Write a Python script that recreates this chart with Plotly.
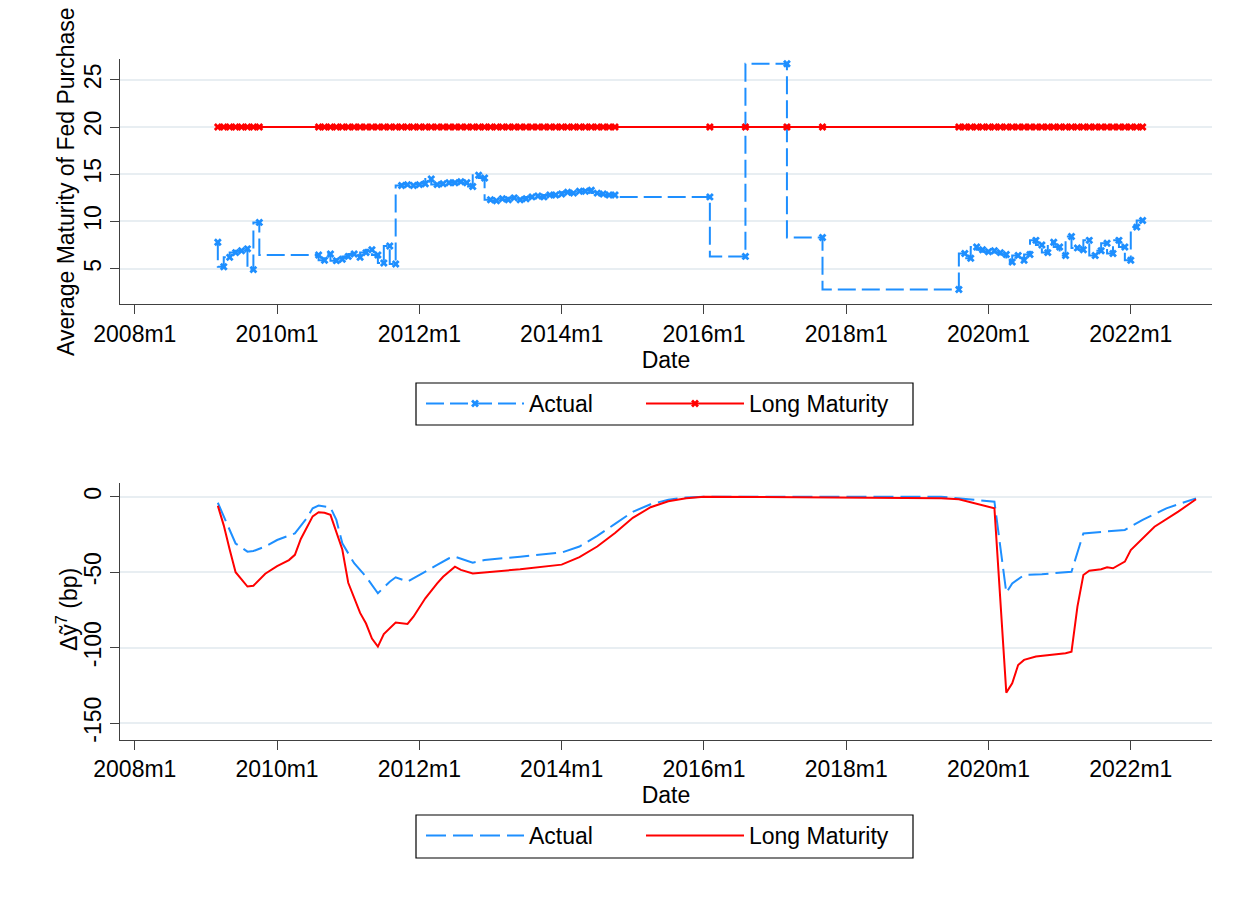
import plotly.graph_objects as go

FONT = "Liberation Sans, Arial, Helvetica, sans-serif"
BLUE = "#1e8fff"
RED = "#ff0000"
GRID = "#e8eef2"
AXIS = "#404040"

# ---------------- top panel data ----------------
top_dates = [
    "2009m3", "2009m4", "2009m5", "2009m6", "2009m7", "2009m8", "2009m9", "2009m10",
    "2010m8", "2010m9", "2010m10", "2010m11", "2010m12",
    "2011m1", "2011m2", "2011m3", "2011m4", "2011m5", "2011m6", "2011m7", "2011m8", "2011m9",
    "2011m10", "2011m11", "2011m12",
    "2012m1", "2012m2", "2012m3", "2012m4", "2012m5", "2012m6", "2012m7", "2012m8", "2012m9", "2012m10", "2012m11", "2012m12",
    "2013m1", "2013m2", "2013m3", "2013m4", "2013m5", "2013m6", "2013m7", "2013m8", "2013m9", "2013m10", "2013m11", "2013m12",
    "2014m1", "2014m2", "2014m3", "2014m4", "2014m5", "2014m6", "2014m7", "2014m8", "2014m9", "2014m10",
    "2016m2", "2016m8", "2017m3", "2017m9",
    "2019m8", "2019m9", "2019m10", "2019m11", "2019m12",
    "2020m1", "2020m2", "2020m3", "2020m4", "2020m5", "2020m6", "2020m7", "2020m8", "2020m9", "2020m10", "2020m11", "2020m12",
    "2021m1", "2021m2", "2021m3", "2021m4", "2021m5", "2021m6", "2021m7", "2021m8", "2021m9", "2021m10", "2021m11", "2021m12",
    "2022m1", "2022m2", "2022m3",
]
top_actual = [
    7.8, 5.2, 6.2, 6.7, 6.9, 7.1, 4.9, 9.9,
    6.45, 5.9, 6.55, 5.85, 6.0,
    6.3, 6.55, 6.2, 6.7, 7.0, 6.45, 5.6, 7.4, 5.5,
    13.8, 13.9, 13.8,
    13.9, 14.0, 14.5, 13.9, 14.0, 14.1, 14.1, 14.2, 14.1, 13.7, 14.9, 14.6,
    12.3, 12.2, 12.4, 12.3, 12.5, 12.3, 12.4, 12.6, 12.7, 12.6, 12.8, 12.8,
    12.9, 13.1, 13.0, 13.2, 13.2, 13.3, 13.0, 12.9, 12.8, 12.8,
    12.6, 6.3, 26.7, 8.3,
    2.8, 6.6, 6.1, 7.3, 7.0,
    6.8, 6.9, 6.7, 6.5, 5.7, 6.4, 5.9, 6.5, 8.0, 7.5, 6.7, 7.8,
    7.3, 6.4, 8.4, 7.2, 7.0, 8.0, 6.4, 6.9, 7.7, 6.6, 8.0, 7.3,
    5.9, 9.4, 10.1,
]
top_long = [
    20, 20, 20, 20, 20, 20, 20, 20,
    20, 20, 20, 20, 20,
    20, 20, 20, 20, 20, 20, 20, 20, 20,
    20, 20, 20,
    20, 20, 20, 20, 20, 20, 20, 20, 20, 20, 20, 20,
    20, 20, 20, 20, 20, 20, 20, 20, 20, 20, 20, 20,
    20, 20, 20, 20, 20, 20, 20, 20, 20, 20,
    20, 20, 20, 20,
    20, 20, 20, 20, 20,
    20, 20, 20, 20, 20, 20, 20, 20, 20, 20, 20, 20,
    20, 20, 20, 20, 20, 20, 20, 20, 20, 20, 20, 20,
    20, 20, 20,
]

# ---------------- bottom panel data ----------------
bot_actual_dates = [
    "2009m3", "2009m6", "2009m8", "2009m9", "2009m11", "2010m1", "2010m4", "2010m6",
    "2010m7", "2010m8", "2010m10", "2010m11", "2010m12", "2011m2", "2011m4", "2011m6",
    "2011m8", "2011m9", "2011m11", "2011m12", "2012m4", "2012m6", "2012m7", "2012m10",
    "2012m12", "2013m6", "2014m1", "2014m4", "2014m7", "2014m10", "2015m1", "2015m4",
    "2015m7", "2015m10", "2016m1", "2019m5", "2020m2", "2020m4", "2020m5", "2020m7",
    "2020m10", "2021m3", "2021m5", "2021m12", "2022m3", "2022m7", "2022m12",
]
bot_actual = [
    -4, -31, -36.4, -36, -33, -28.7, -24.3, -14.3,
    -7.7, -5.9, -7.1, -15.4, -30.9, -44.1, -53, -64,
    -56.3, -53.4, -56.3, -54, -45.2, -40.8, -39.7, -43.7,
    -41.9, -39.7, -37, -33, -26, -18, -10, -5,
    -2, -0.5, 0, 0, -3.3, -63.6, -57.4, -51.9,
    -51.4, -49.7, -24.3, -22, -15.4, -7.7, -1.1,
]
bot_long_dates = [
    "2009m3", "2009m4", "2009m5", "2009m6", "2009m8", "2009m9", "2009m11", "2010m1",
    "2010m3", "2010m4", "2010m5", "2010m7", "2010m8", "2010m9", "2010m10", "2010m12",
    "2011m1", "2011m3", "2011m4", "2011m5", "2011m6", "2011m7", "2011m9", "2011m11",
    "2011m12", "2012m2", "2012m4", "2012m5", "2012m7", "2012m8", "2012m10", "2013m6",
    "2014m1", "2014m4", "2014m7", "2014m10", "2015m1", "2015m4", "2015m7", "2015m10",
    "2016m1", "2019m5", "2019m8", "2020m2", "2020m4", "2020m5", "2020m6", "2020m7",
    "2020m9", "2020m12", "2021m2", "2021m3", "2021m4", "2021m5", "2021m6", "2021m8",
    "2021m9", "2021m10", "2021m12", "2022m1", "2022m3", "2022m5", "2022m9", "2022m12",
]
bot_long = [
    -6, -19, -35, -50, -59.5, -59, -51, -46,
    -42, -38.5, -28, -13, -10.3, -10.6, -12, -35,
    -57, -77, -84, -94, -99.3, -91, -83.4, -84.3,
    -79.5, -67.3, -57.4, -53, -46.4, -48.5, -50.8, -48.1,
    -45, -40, -33, -24, -14, -7, -3, -1,
    0, -1.1, -1.7, -7.7, -129.8, -123.6, -111.5, -108.1,
    -105.9, -104.5, -103.7, -102.6, -72.8, -51.9, -49, -48.1,
    -46.8, -47.4, -43, -35.3, -27.6, -19.9, -9.9, -1.7,
]

tick_labels = ["2008m1", "2010m1", "2012m1", "2014m1", "2016m1", "2018m1", "2020m1", "2022m1"]
top_yticks = [5, 10, 15, 20, 25]
top_yticktext = ["5", "10", "15", "20", "25"]
bot_yticks = [0, -50, -100, -150]
bot_yticktext = ["0", "-50", "-100", "-150"]


def tm(s):
    """Stata %tm month number (months since 1960m1)."""
    y, m = s.split("m")
    return (int(y) - 1960) * 12 + int(m) - 1


# page has an 8px body margin; the figure is sized to fit the 1250x907 window
OFF = 8
W, H = 1250 - 2 * OFF, 907 - 2 * OFF


def px(x):
    return (x - OFF) / W


def py(y):
    return 1 - (y - OFF) / H


fig = go.Figure()

fig.add_trace(go.Scatter(
    x=[tm(d) for d in top_dates], y=top_actual, name="Actual",
    mode="lines+markers", line=dict(color=BLUE, width=2, dash="18px,6px", shape="vh"),
    marker=dict(symbol="x", size=7, color=BLUE),
    xaxis="x", yaxis="y", legend="legend",
))
fig.add_trace(go.Scatter(
    x=[tm(d) for d in top_dates], y=top_long, name="Long Maturity",
    mode="lines+markers", line=dict(color=RED, width=2),
    marker=dict(symbol="x", size=7, color=RED),
    xaxis="x", yaxis="y", legend="legend2",
))
fig.add_trace(go.Scatter(
    x=[tm(d) for d in bot_actual_dates], y=bot_actual, name="Actual",
    mode="lines", line=dict(color=BLUE, width=2, dash="20px,7px"),
    xaxis="x2", yaxis="y2", legend="legend3",
))
fig.add_trace(go.Scatter(
    x=[tm(d) for d in bot_long_dates], y=bot_long, name="Long Maturity",
    mode="lines", line=dict(color=RED, width=2),
    xaxis="x2", yaxis="y2", legend="legend4",
))

xr = [tm("2016m1") - 98.5, tm("2016m1") + 85.7]
xcommon = dict(
    range=xr, tickvals=[tm(t) for t in tick_labels], ticktext=tick_labels,
    showline=True, linecolor=AXIS, linewidth=1.3, ticks="outside", ticklen=9,
    tickcolor=AXIS, tickwidth=1.3, showgrid=False, zeroline=False,
    tickfont=dict(family=FONT, size=23, color="black"),
    title=dict(text="Date", font=dict(family=FONT, size=23, color="black"), standoff=0),
    domain=[px(120), px(1212)], fixedrange=True, automargin=False,
)
ycommon = dict(
    showline=True, linecolor=AXIS, linewidth=1.3, ticks="outside", ticklen=9,
    tickcolor=AXIS, tickwidth=1.3, showgrid=True, gridcolor=GRID, gridwidth=1.5,
    zeroline=False, tickangle=-90, automargin=False,
    tickfont=dict(family=FONT, size=23, color="black"), fixedrange=True,
)

legend_common = dict(
    orientation="h", xanchor="left", yanchor="top",
    borderwidth=0, bgcolor="rgba(0,0,0,0)", itemwidth=98,
    font=dict(family=FONT, size=23, color="black"),
)

fig.update_layout(
    width=W, height=H, margin=dict(l=0, r=0, t=0, b=0, autoexpand=False),
    paper_bgcolor="white", plot_bgcolor="white",
    font=dict(family=FONT, size=23, color="black"),
    xaxis=dict(anchor="y", **xcommon),
    xaxis2=dict(anchor="y2", **xcommon),
    yaxis=dict(anchor="x", domain=[py(304), py(59)], range=[1.26, 27.2],
               tickvals=top_yticks, ticktext=top_yticktext, **ycommon),
    yaxis2=dict(anchor="x2", domain=[py(739.6), py(482.7)], range=[-160.9, 9.27],
                tickvals=bot_yticks, ticktext=bot_yticktext, **ycommon),
    legend=dict(x=px(421), y=py(382), **legend_common),
    legend2=dict(x=px(641), y=py(382), **legend_common),
    legend3=dict(x=px(421), y=py(814), **legend_common),
    legend4=dict(x=px(641), y=py(814), **legend_common),
    shapes=[
        dict(type="rect", xref="paper", yref="paper", x0=px(416), x1=px(913),
             y0=py(425), y1=py(383), line=dict(color="black", width=1.2)),
        dict(type="rect", xref="paper", yref="paper", x0=px(416), x1=px(913),
             y0=py(858), y1=py(815), line=dict(color="black", width=1.2)),
    ],
    annotations=[
        dict(text="Average Maturity of Fed Purchase", textangle=-90, xref="paper", yref="paper",
             x=px(66), y=py(182), showarrow=False, xanchor="center", yanchor="middle",
             font=dict(family=FONT, size=23, color="black")),
        dict(text="Δỹ<sup>7</sup> (bp)", textangle=-90, xref="paper", yref="paper",
             x=px(67), y=py(610), showarrow=False, xanchor="center", yanchor="middle",
             font=dict(family=FONT, size=23, color="black")),
    ],
    showlegend=True,
)

fig.write_html("out.html")
